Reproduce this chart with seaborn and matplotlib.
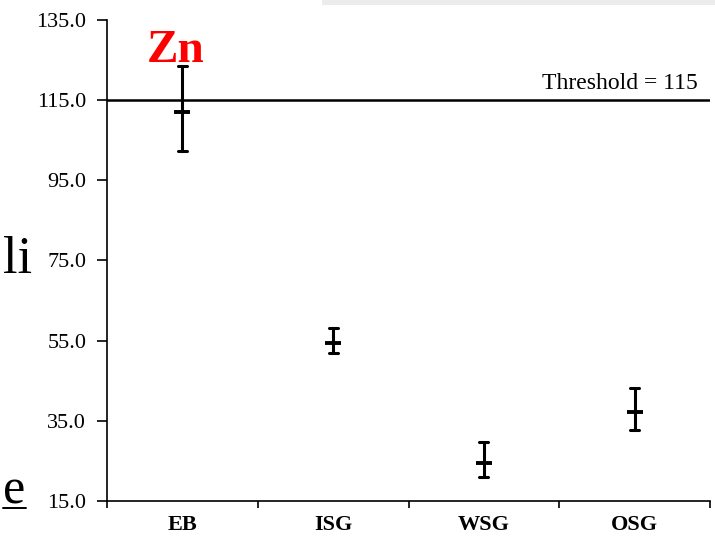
import numpy as np
import pandas as pd
import seaborn as sns
import matplotlib.pyplot as plt
from matplotlib.lines import Line2D
from matplotlib.patches import Rectangle

# values (Zn)
sites = ["EB", "ISG", "WSG", "OSG"]
means = [112.0, 54.4, 24.5, 37.2]
lower = [102.3, 51.9, 20.9, 32.8]
upper = [123.5, 58.1, 29.8, 43.3]
yticks = [15.0, 35.0, 55.0, 75.0, 95.0, 115.0, 135.0]
threshold = 115

# long table: low / mean / high per site -> median gives the mean, min/max give the bar
rows = []
for s, lo, m, hi in zip(sites, lower, means, upper):
    for v in (lo, m, hi):
        rows.append({"site": s, "value": v})
df = pd.DataFrame(rows)

sns.set_style("ticks")
plt.rcParams["font.family"] = ["Liberation Serif", "DejaVu Serif"]
plt.rcParams["text.color"] = "black"
plt.rcParams["xtick.color"] = "black"
plt.rcParams["ytick.color"] = "black"

fig = plt.figure(figsize=(7.15, 5.39), dpi=100)
ax = fig.add_axes([0.1497, 0.0705, 0.8433, 0.8924])

sns.pointplot(data=df, x="site", y="value", order=sites,
              estimator="median", errorbar=lambda v: (v.min(), v.max()),
              color="black", marker="_", markersize=12, markeredgewidth=2.8,
              linestyle="none", capsize=0.06, err_kws={"linewidth": 2.2}, ax=ax)

ax.axhline(threshold, color="black", linewidth=1.8, zorder=0)
ax.text(0.976, 0.835, f"Threshold = {threshold}", transform=fig.transFigure,
        ha="right", va="baseline", fontsize=17)

ax.set_xlim(-0.5, 3.5)
ax.set_ylim(15, 135)
ax.set_yticks(yticks)
ax.set_yticklabels([f"{t:.1f}" for t in yticks], fontsize=16)
ax.set_xticks(range(len(sites)))
ax.set_xticklabels(sites, fontsize=16, fontweight="bold")
ax.set_xticks(np.arange(-0.5, 3.6, 1.0), minor=True)
ax.tick_params(axis="x", which="major", length=0, pad=10)
ax.tick_params(axis="x", which="minor", length=5, width=1.2)
ax.tick_params(axis="y", length=7, width=1.2, pad=8)
ax.set_xlabel("")
ax.set_ylabel("")
sns.despine(ax=ax)
for sp in ("left", "bottom"):
    ax.spines[sp].set_linewidth(1.2)
    ax.spines[sp].set_color("black")

# title and slide fragments
fig.text(0.245, 0.885, "Zn", color="red", fontsize=34, fontweight="bold",
         ha="center", va="baseline")
fig.text(0.004, 0.494, "li", fontsize=38, ha="left", va="baseline")
fig.text(0.004, 0.066, "e", fontsize=36, ha="left", va="baseline")
fig.add_artist(Line2D([0.004, 0.036], [0.058, 0.058], color="black", linewidth=1.4))
fig.add_artist(Rectangle((0.45, 0.99), 0.55, 0.01, color="#ececec", linewidth=0))

fig.savefig("out.png", dpi=100)
